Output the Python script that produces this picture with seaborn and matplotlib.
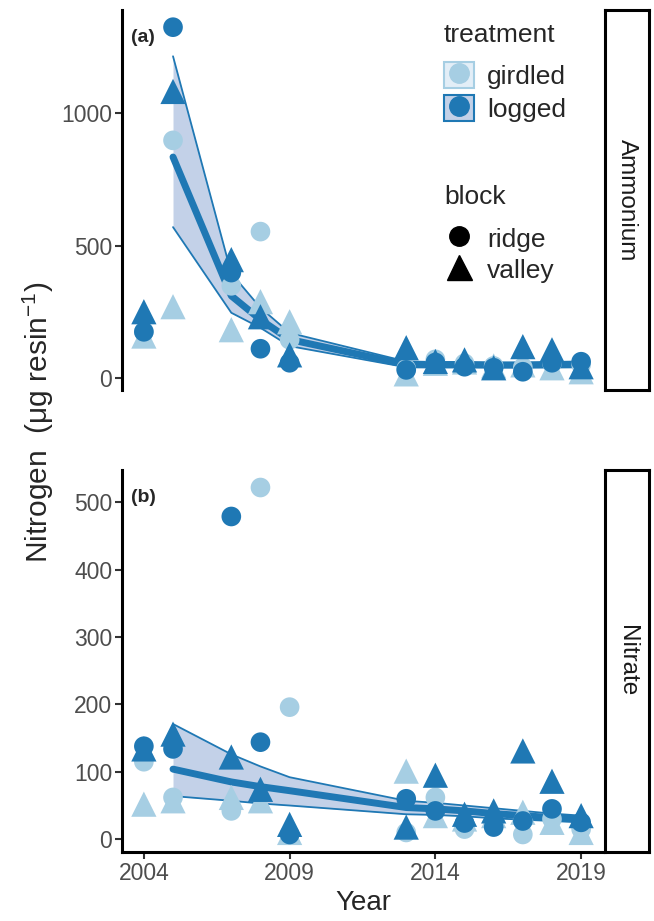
import matplotlib
matplotlib.use("Agg")
import matplotlib.pyplot as plt
from matplotlib.lines import Line2D
from matplotlib.patches import Rectangle
import seaborn as sns
import pandas as pd

sns.set_theme(style="white")
plt.rcParams["font.family"] = ["Liberation Sans", "DejaVu Sans"]
plt.rcParams["mathtext.fontset"] = "custom"
plt.rcParams["mathtext.rm"] = "Liberation Sans"

years = [2004, 2005, 2007, 2008, 2009, 2013, 2014, 2015, 2016, 2017, 2018, 2019]

# Ammonium (ug resin-1)
amm_girdled_ridge = [175, 898, 348, 553, 144, 35, 70, 55, 45, 40, 55, 50]
amm_girdled_valley = [158, 269, 182, 288, 212, 15, 55, 60, 45, 49, 38, 23]
amm_logged_ridge = [174, 1326, 398, 110, 57, 30, 58, 42, 38, 23, 57, 61]
amm_logged_valley = [250, 1083, 447, 231, 87, 114, 62, 68, 38, 118, 106, 42]

# Nitrate (ug resin-1)
nit_girdled_ridge = [115, 62, 42, 522, 196, 10, 62, 15, 25, 7, 30, 15]
nit_girdled_valley = [52, 57, 62, 57, 10, 101, 35, 30, 35, 40, 25, 10]
nit_logged_ridge = [138, 134, 479, 144, 7, 60, 42, 24, 18, 27, 45, 25]
nit_logged_valley = [134, 156, 122, 74, 22, 18, 95, 37, 42, 131, 86, 35]

# fitted trend for logged plots (after treatment)
fit_years = [2005, 2007, 2008, 2009, 2013, 2014, 2015, 2016, 2017, 2018, 2019]
amm_fit = [835, 310, 220, 145, 50, 49, 49, 48, 48, 49, 50]
amm_lo = [570, 246, 189, 120, 40, 40, 40, 40, 40, 40, 40]
amm_hi = [1216, 395, 265, 170, 62, 60, 60, 58, 58, 60, 62]
nit_fit = [104, 85, 78, 72, 47, 45, 42, 38, 35, 32, 30]
nit_lo = [64, 57, 53, 50, 37, 36, 34, 31, 29, 27, 25]
nit_hi = [171, 126, 108, 92, 57, 54, 50, 46, 42, 38, 35]

light = "#a6cee3"
dark = "#1f78b4"
ribbon = "#c3d1e8"
pal = {"girdled": light, "logged": dark}
mk = {"ridge": "o", "valley": "^"}
msize = {"ridge": 200, "valley": 330}


def make_df(gr, gv, lr, lv):
    rows = []
    for trt, blk, vals in [("girdled", "ridge", gr), ("girdled", "valley", gv),
                           ("logged", "ridge", lr), ("logged", "valley", lv)]:
        for y, v in zip(years, vals):
            rows.append({"year": y, "value": v, "treatment": trt, "block": blk})
    return pd.DataFrame(rows)


panels = [
    ("Ammonium", "(a)", make_df(amm_girdled_ridge, amm_girdled_valley, amm_logged_ridge, amm_logged_valley),
     amm_fit, amm_lo, amm_hi, (-46, 1391), [0, 500, 1000], (10, 390)),
    ("Nitrate", "(b)", make_df(nit_girdled_ridge, nit_girdled_valley, nit_logged_ridge, nit_logged_valley),
     nit_fit, nit_lo, nit_hi, (-19, 548), [0, 100, 200, 300, 400, 500], (470, 852)),
]

W, H = 654, 921
fig = plt.figure(figsize=(W / 100, H / 100), dpi=100)


def px_axes(x0, y0, x1, y1):
    return fig.add_axes([x0 / W, 1 - y1 / H, (x1 - x0) / W, (y1 - y0) / H])


axes = []
for i, (name, tag, df, fit, lo, hi, ylim, yticks, (top, bot)) in enumerate(panels):
    ax = px_axes(122, top, 603, bot)
    ax.fill_between(fit_years, lo, hi, color=ribbon, lw=0, zorder=1)
    sns.lineplot(x=fit_years, y=lo, color=dark, lw=1.3, ax=ax, zorder=2)
    sns.lineplot(x=fit_years, y=hi, color=dark, lw=1.3, ax=ax, zorder=2)
    sns.lineplot(x=fit_years, y=fit, color=dark, lw=5, ax=ax, zorder=2)
    sns.scatterplot(data=df, x="year", y="value", hue="treatment", style="block",
                    size="block", sizes=msize, palette=pal, markers=mk,
                    linewidth=0, legend=False, ax=ax, zorder=3)
    ax.set_xlim(2003.25, 2019.75)
    ax.set_ylim(*ylim)
    ax.set_yticks(yticks)
    ax.set_xlabel("")
    ax.set_ylabel("")
    for s in ["top", "right"]:
        ax.spines[s].set_visible(False)
    ax.spines["left"].set_linewidth(2.2)
    ax.spines["left"].set_color("black")
    ax.tick_params(axis="y", length=5, width=1.5, color="#333333", labelsize=16.5,
                   labelcolor="#4d4d4d", left=True, pad=2)
    if i == 0:
        ax.spines["bottom"].set_visible(False)
        ax.set_xticks([])
    else:
        ax.spines["bottom"].set_linewidth(2.2)
        ax.spines["bottom"].set_color("black")
        ax.set_xticks([2004, 2009, 2014, 2019])
        ax.tick_params(axis="x", length=5, width=1.5, color="#333333", labelsize=16.5,
                       labelcolor="#4d4d4d", bottom=True, pad=2)
    ax.text(9 / 481, 1 - 28 / (bot - top), tag, transform=ax.transAxes, fontsize=14,
            fontweight="bold", va="center", ha="left")

    # facet strip on the right
    sax = px_axes(605, top, 649, bot)
    sax.set_xticks([])
    sax.set_yticks([])
    for s in sax.spines.values():
        s.set_linewidth(2.2)
        s.set_color("black")
    sax.set_facecolor("white")
    sax.text(0.5, 0.5, name, rotation=-90, ha="center", va="center", fontsize=17.5,
             color="#1a1a1a", transform=sax.transAxes)
    axes.append(ax)

fig.text(38 / W, 1 - 422 / H, "Nitrogen  (μg resin$^{-1}$)", rotation=90,
         ha="center", va="center", fontsize=21.5)
fig.text(363 / W, 1 - 903 / H, "Year", ha="center", va="center", fontsize=20)

# legends inside the top panel
ax = axes[0]
fig.text(444 / W, 1 - 35 / H, "treatment", ha="left", va="center", fontsize=19)
fig.text(444 / W, 1 - 197 / H, "block", ha="left", va="center", fontsize=19)
trt_handles = [
    (Rectangle((0, 0), 1, 1, facecolor="#e3eef7", edgecolor=light, lw=1.5),
     Line2D([], [], marker="o", color=light, ls="", markersize=14)),
    (Rectangle((0, 0), 1, 1, facecolor=ribbon, edgecolor=dark, lw=1.5),
     Line2D([], [], marker="o", color=dark, ls="", markersize=14)),
]
leg1 = ax.legend(trt_handles, ["girdled", "logged"],
                 loc="center left", bbox_to_anchor=(444 / W, 1 - 92 / H),
                 bbox_transform=fig.transFigure, frameon=False, fontsize=19,
                 handlelength=1.14, handleheight=1.14, labelspacing=0.2,
                 handletextpad=0.5, borderpad=0, borderaxespad=0)
ax.add_artist(leg1)
blk_handles = [Line2D([], [], marker="o", color="black", ls="", markersize=14),
               Line2D([], [], marker="^", color="black", ls="", markersize=18)]
ax.legend(blk_handles, ["ridge", "valley"], loc="center left",
          bbox_to_anchor=(444 / W, 1 - 254 / H), bbox_transform=fig.transFigure,
          frameon=False, fontsize=19, handlelength=1.14, handleheight=1.14,
          labelspacing=0.15, handletextpad=0.5, borderpad=0, borderaxespad=0)

fig.savefig("out.png", dpi=100)
